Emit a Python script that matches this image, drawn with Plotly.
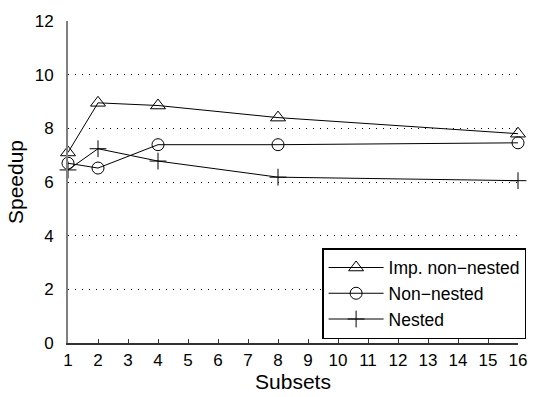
import plotly.graph_objects as go

subsets = [1, 2, 4, 8, 16]
imp_non_nested = [7.1, 8.95, 8.85, 8.4, 7.8]
non_nested = [6.7, 6.52, 7.39, 7.39, 7.46]
nested = [6.45, 7.24, 6.78, 6.18, 6.05]

x_ticks = list(range(1, 17))
y_ticks = [0, 2, 4, 6, 8, 10, 12]

font = "Liberation Sans, Arial, sans-serif"

fig = go.Figure()
series = [
    ("Imp. non\u2212nested", imp_non_nested, "triangle-up-open", 13),
    ("Non\u2212nested", non_nested, "circle-open", 12),
    ("Nested", nested, "cross-thin-open", 12),
]
for name, ys, sym, sz in series:
    fig.add_trace(go.Scatter(
        x=subsets, y=ys, name=name, mode="lines+markers",
        line=dict(color="black", width=1),
        marker=dict(symbol=sym, size=sz, color="black", line=dict(color="black", width=1)),
        cliponaxis=False,
    ))

fig.update_layout(
    width=539, height=397,
    margin=dict(l=68, r=17, t=14, b=52),
    paper_bgcolor="white", plot_bgcolor="white",
    font=dict(family=font, size=17, color="black"),
    showlegend=True,
    legend=dict(
        x=1.018, y=0.012, xanchor="right", yanchor="bottom",
        bgcolor="white", bordercolor="black", borderwidth=1.5,
        font=dict(size=17.5, family=font), itemwidth=55,
        tracegroupgap=0,
    ),
    xaxis=dict(
        range=[1, 16], tickvals=x_ticks, ticktext=[str(v) for v in x_ticks],
        showgrid=False, zeroline=False,
        showline=True, linecolor="#333", linewidth=1.5,
        ticks="inside", ticklen=4, tickcolor="#333",
        ticklabelstandoff=1,
        title=dict(text="Subsets", font=dict(size=21), standoff=0),
        tickfont=dict(size=17),
    ),
    yaxis=dict(
        range=[0, 12], tickvals=y_ticks,
        showgrid=True, gridcolor="black", griddash="1px,6px", gridwidth=1,
        zeroline=False,
        showline=True, linecolor="#808080", linewidth=2,
        ticks="", ticklen=0,
        ticklabelstandoff=9,
        title=dict(text="Speedup", font=dict(size=21), standoff=5),
        tickfont=dict(size=17),
    ),
)

fig.write_html("out.html", post_script="document.body.style.margin='0';",
               config={"displayModeBar": False})
